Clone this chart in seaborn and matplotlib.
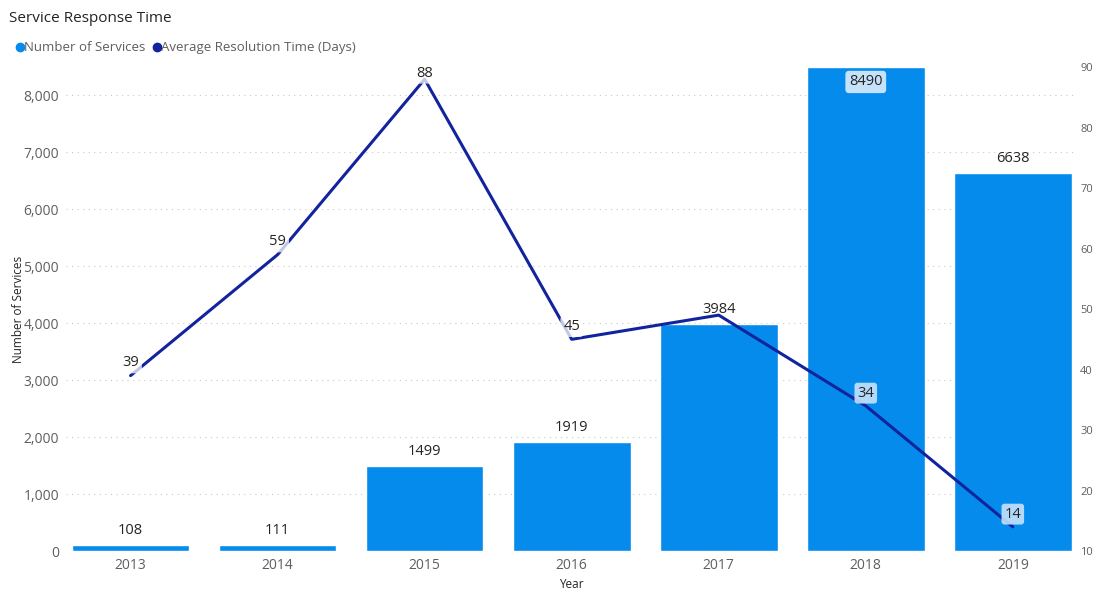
import numpy as np
import pandas as pd
import matplotlib.pyplot as plt
import seaborn as sns
from matplotlib.lines import Line2D
from matplotlib.ticker import FuncFormatter

# data
years = ["2013", "2014", "2015", "2016", "2017", "2018", "2019"]
services = [108, 111, 1499, 1919, 3984, 8490, 6638]
resolution_days = [39, 59, 88, 45, 49, 34, 14]
# line labels shown in the chart (2017 label is hidden behind the bar label)
line_label_shown = [True, True, True, True, False, True, True]

BAR_COLOR = "#048BEC"
LINE_COLOR = "#12239E"
TEXT_COLOR = "#252423"
TICK_COLOR = "#605E5C"
BOX_COLOR = "#C6E2FB"

sns.set_theme(style="white")
plt.rcParams["font.family"] = ["Open Sans", "DejaVu Sans"]

df = pd.DataFrame({"Year": years, "Services": services, "Days": resolution_days})
df["pos"] = np.arange(len(df))

fig = plt.figure(figsize=(10.98, 5.89), dpi=100)
ax = fig.add_axes([0.060, 0.0645, 0.920, 0.8215])

sns.barplot(data=df, x="Year", y="Services", color=BAR_COLOR, width=0.8,
            saturation=1, ax=ax)
ax.set_ylim(0, 8490)
ax.set_xlim(-0.44, 6.43)
ax.set_yticks(range(0, 9000, 1000))
ax.yaxis.set_major_formatter(FuncFormatter(lambda v, p: f"{int(v):,}"))
ax.grid(axis="y", linestyle=(0, (1, 4)), color="#C8C8C8", linewidth=0.8)
ax.set_axisbelow(True)
for s in ax.spines.values():
    s.set_visible(False)
ax.tick_params(axis="both", length=0, labelsize=10, labelcolor=TICK_COLOR, pad=5)
ax.set_xlabel("Year", fontsize=8.5, color=TEXT_COLOR)
ax.set_ylabel("Number of Services", fontsize=8.5, color=TEXT_COLOR)
ax.xaxis.set_label_coords(0.5, -0.055)
ax.yaxis.set_label_coords(-0.040, 0.5)

# bar labels
for p, v in zip(df["pos"], df["Services"]):
    if v > 8490 * 0.95:
        ax.text(p, v - 260, str(v), ha="center", va="center", fontsize=10.5,
                color=TEXT_COLOR,
                bbox=dict(boxstyle="round,pad=0.25", fc=BOX_COLOR, ec="none"))
    else:
        ax.text(p, v + 120, str(v), ha="center", va="bottom", fontsize=10.5,
                color=TEXT_COLOR)

ax2 = ax.twinx()
sns.lineplot(data=df, x="pos", y="Days", color=LINE_COLOR, linewidth=2.2,
             ax=ax2, legend=False)
ax2.set_ylim(10, 90)
ax2.set_xlim(-0.44, 6.43)
ax2.set_yticks(range(10, 100, 10))
for s in ax2.spines.values():
    s.set_visible(False)
ax2.tick_params(axis="y", length=0, labelsize=8, labelcolor=TICK_COLOR, pad=3)
ax2.set_ylabel("")
ax2.set_xlabel("")
ax2.grid(False)

for p, v, shown, bv in zip(df["pos"], df["Days"], line_label_shown, df["Services"]):
    if not shown:
        continue
    inside = (v - 10) / 80 * 8490 < bv
    fc = BOX_COLOR if inside else "white"
    dy = 2.1 if v < 85 else 1.0
    ax2.text(p, v + dy, str(v), ha="center", va="center", fontsize=10.5,
             color=TEXT_COLOR,
             bbox=dict(boxstyle="round,pad=0.2", fc=fc, ec="none",
                       alpha=0.9 if inside else 0.75))

fig.text(0.008, 0.968, "Service Response Time", fontsize=11, color=TEXT_COLOR,
         ha="left", va="center")
handles = [
    Line2D([], [], marker="o", linestyle="none", color=BAR_COLOR, markersize=6),
    Line2D([], [], marker="o", linestyle="none", color=LINE_COLOR, markersize=6),
]
fig.legend(handles, ["Number of Services", "Average Resolution Time (Days)"],
           loc="center left", bbox_to_anchor=(0.0, 0.919), ncol=2, frameon=False,
           fontsize=9.5, handletextpad=-0.3, columnspacing=0.3,
           labelcolor=TICK_COLOR, handlelength=1.2)

fig.savefig("out.png", dpi=100)
